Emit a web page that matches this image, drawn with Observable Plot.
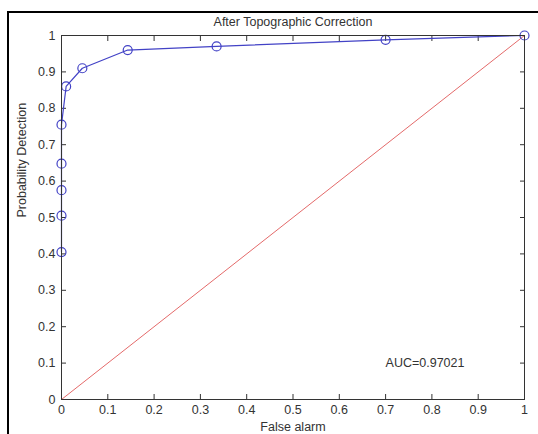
<!DOCTYPE html>
<html>
<head>
<meta charset="utf-8">
<script src="https://cdn.jsdelivr.net/npm/d3@7"></script>
<script src="https://cdn.jsdelivr.net/npm/@observablehq/plot@0.6"></script>
<style>
  html, body { margin: 0; padding: 0; background: #fff; }
  #wrap { position: relative; width: 538px; height: 434px; overflow: hidden; }
  #wrap svg { display: block; }
  #border { position: absolute; left: 7px; top: 11px; width: 600px; height: 500px; border: 2px solid #000; box-sizing: border-box; pointer-events: none; }
</style>
</head>
<body>
<div id="wrap"><div id="border"></div></div>
<script>
const falseAlarm = [0, 0, 0, 0, 0, 0.01, 0.045, 0.143, 0.335, 0.70, 1];
const probDetection = [0.405, 0.505, 0.575, 0.648, 0.755, 0.86, 0.91, 0.96, 0.97, 0.988, 1];
const chanceX = [0, 1];
const chanceY = [0, 1];
const xTicks = [0, 0.1, 0.2, 0.3, 0.4, 0.5, 0.6, 0.7, 0.8, 0.9, 1];
const yTicks = [0, 0.1, 0.2, 0.3, 0.4, 0.5, 0.6, 0.7, 0.8, 0.9, 1];
const aucLabel = "AUC=0.97021";
const aucPos = {x: 0.70, y: 0.10};

const roc = falseAlarm.map((x, i) => ({x, y: probDetection[i]}));
const chance = chanceX.map((x, i) => ({x, y: chanceY[i]}));
const fmt = d => d === 0 || d === 1 ? String(d) : d.toFixed(1);

const chart = Plot.plot({
  width: 538,
  height: 434,
  marginLeft: 61,
  marginRight: 14,
  marginTop: 35,
  marginBottom: 35,
  style: {fontFamily: "'Liberation Sans', Arial, sans-serif", fontSize: "12.5px", color: "#333", background: "transparent", overflow: "visible"},
  x: {domain: [0, 1]},
  y: {domain: [0, 1]},
  marks: [
    Plot.axisX(xTicks, {anchor: "bottom", tickSize: -5, tickPadding: 11, tickFormat: fmt, label: null, stroke: "#333", fill: "#333"}),
    Plot.axisX(xTicks, {anchor: "top", tickSize: -5, tickFormat: () => "", label: null, stroke: "#333"}),
    Plot.axisY(yTicks, {anchor: "left", tickSize: -5, tickPadding: 11, tickFormat: fmt, label: null, stroke: "#333", fill: "#333"}),
    Plot.axisY(yTicks, {anchor: "right", tickSize: -5, tickFormat: () => "", label: null, stroke: "#333"}),
    Plot.line(chance, {x: "x", y: "y", stroke: "#e46a6a", strokeWidth: 1}),
    Plot.line(roc, {x: "x", y: "y", stroke: "#4242c6", strokeWidth: 1.2}),
    Plot.dot(roc, {x: "x", y: "y", r: 4.5, stroke: "#4242c6", strokeWidth: 1.2, fill: "none"}),
    Plot.frame({stroke: "#333"}),
    Plot.text([aucLabel], {x: () => aucPos.x, y: () => aucPos.y, text: d => d, textAnchor: "start", fill: "#333"}),
    Plot.text(["After Topographic Correction"], {frameAnchor: "top", dy: -18, fill: "#333"}),
    Plot.text(["False alarm"], {frameAnchor: "bottom", dy: 31, fill: "#333"}),
    Plot.text(["Probability Detection"], {frameAnchor: "left", dx: -40, rotate: -90, fill: "#333"})
  ]
});
document.getElementById("wrap").prepend(chart);
</script>
</body>
</html>
